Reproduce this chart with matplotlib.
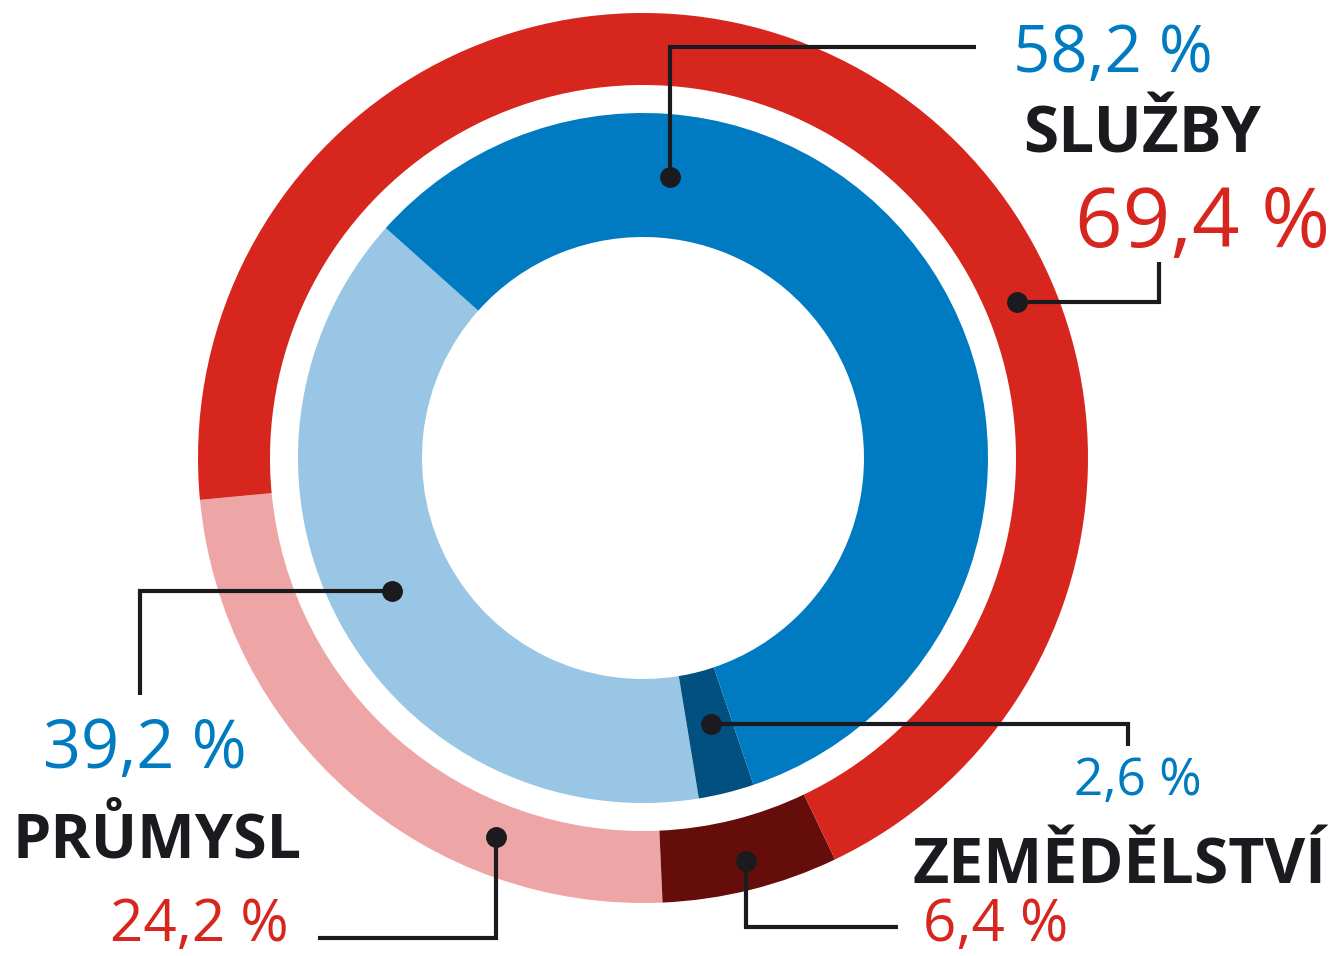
import numpy as np
import matplotlib
matplotlib.use("Agg")
import matplotlib.pyplot as plt

# --- Data ---
sectors     = ["SLUŽBY", "PRŮMYSL", "ZEMĚDĚLSTVÍ"]
share_outer = [69.4, 24.2, 6.4]   # red ring
share_inner = [58.2, 39.2, 2.6]   # blue ring
outer_lbls  = ["69,4 %", "24,2 %", "6,4 %"]
inner_lbls  = ["58,2 %", "39,2 %", "2,6 %"]

# --- Style ---
RED, PINK, DARK_RED = "#D7261E", "#EDA6A5", "#650D0B"
BLUE, LIGHT_BLUE, DARK_BLUE = "#007BC2", "#98C6E4", "#01507F"
INK = "#1B1A1E"
FONT = ["Open Sans", "DejaVu Sans"]

W, H = 1335, 956
CX, CY = 643, H - 458
R_OUT, W_OUT = 445, 72
R_IN, W_IN = 345, 124

fig = plt.figure(figsize=(W / 100, H / 100), dpi=100)
ax = fig.add_axes([0, 0, 1, 1])

# pie order (counter-clockwise): průmysl, zemědělství, služby
order = [1, 2, 0]
ax.pie([share_outer[i] for i in order], radius=R_OUT, center=(CX, CY),
       startangle=185.4, counterclock=True,
       colors=[PINK, DARK_RED, RED],
       wedgeprops=dict(width=W_OUT, linewidth=0))
ax.pie([share_inner[i] for i in order], radius=R_IN, center=(CX, CY),
       startangle=138.2, counterclock=True,
       colors=[LIGHT_BLUE, DARK_BLUE, BLUE],
       wedgeprops=dict(width=W_IN, linewidth=0))

ax.set_xlim(0, W)
ax.set_ylim(0, H)
ax.set_aspect("equal")
ax.axis("off")


def py(y):
    # pixel row (from top) -> data y
    return H - y


def leader(angle, r, corner, end):
    """dot on the ring + elbow line; corner/end given as 'h'/'v' moves in pixels"""
    a = np.deg2rad(angle)
    x0, y0 = CX + r * np.cos(a), CY + r * np.sin(a)
    xs, ys = [x0], [y0]
    if corner[0] == "h":
        xs.append(corner[1]); ys.append(y0)
        xs.append(corner[1]); ys.append(py(end))
    else:
        xs.append(x0); ys.append(py(corner[1]))
        xs.append(end); ys.append(py(corner[1]))
    ax.plot(xs, ys, color=INK, lw=3, solid_capstyle="butt", solid_joinstyle="miter")
    ax.plot(x0, y0, "o", color=INK, ms=14)


# inner ring leaders
leader(84.5, 282, ("v", 47), 976)      # služby
leader(208.0, 284, ("h", 140), 695)    # průmysl
leader(284.3, 274, ("h", 1128), 746)   # zemědělství
# outer ring leaders
leader(22.7, 405, ("h", 1159), 262)    # služby
leader(248.8, 406, ("v", 938), 318)    # průmysl
leader(284.3, 416, ("v", 927), 898)    # zemědělství

# labels: (text, x centre, baseline row, size, colour, weight)
labels = [
    (inner_lbls[0], 1113, 72, 47, BLUE, "normal"),
    (sectors[0], 1142, 152, 46, INK, "bold"),
    (outer_lbls[0], 1203, 247, 60, RED, "normal"),
    (inner_lbls[1], 145, 768, 48, BLUE, "normal"),
    (sectors[1], 157, 857, 44, INK, "bold"),
    (outer_lbls[1], 199, 941, 42, RED, "normal"),
    (inner_lbls[2], 1138, 795, 37, BLUE, "normal"),
    (sectors[2], 1119, 883, 45, INK, "bold"),
    (outer_lbls[2], 996, 941, 42, RED, "normal"),
]
for s, x, yb, size, c, w in labels:
    ax.text(x, py(yb), s, ha="center", va="baseline", fontsize=size,
            color=c, fontweight=w, family=FONT)

fig.savefig("out.png", dpi=100, facecolor="white")
